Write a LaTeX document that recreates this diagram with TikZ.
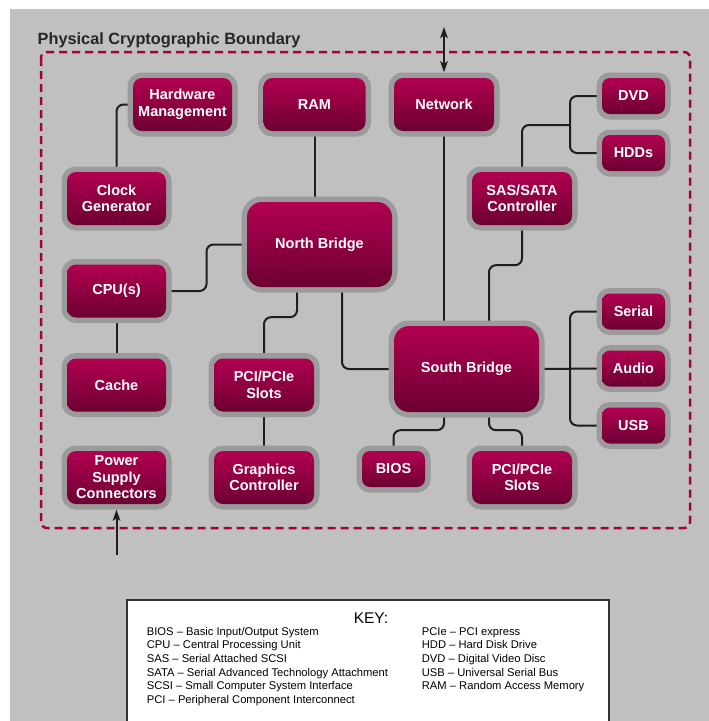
\documentclass[tikz,border=0pt]{standalone}
\usepackage{fontspec}
\setmainfont{Liberation Sans}
\usetikzlibrary{arrows.meta,backgrounds,calc}
\definecolor{panel}{RGB}{192,192,192}
\definecolor{rim}{RGB}{155,155,155}
\definecolor{boxtop}{RGB}{178,0,80}
\definecolor{boxbot}{RGB}{108,0,50}
\definecolor{crimson}{RGB}{163,0,62}
\definecolor{wirec}{RGB}{30,30,30}
\tikzset{>={Stealth[length=11pt,width=7.5pt,inset=2.5pt]}}
\tikzset{
  blk/.style={preaction={draw=rim,line width=11pt}, top color=boxtop, bottom color=boxbot,
    rounded corners=9pt, inner sep=0pt, text=white, align=center,
    font=\fontsize{14.5}{16.5}\selectfont\bfseries, minimum width=99pt, minimum height=53pt},
  small/.style={blk, minimum width=63pt, minimum height=36pt, rounded corners=8pt},
  bridge/.style={blk, minimum width=145pt, minimum height=85pt, rounded corners=15pt},
  wire/.style={draw=wirec, line width=2pt, rounded corners=7pt},
  keyrow/.style={anchor=base west, inner sep=0pt, font=\fontsize{11.2}{13}\selectfont}
}

\begin{document}
\begin{tikzpicture}[x=1pt,y=-1pt]
		\useasboundingbox (0,0) rectangle (709,721);
		\begin{scope}[on background layer]
			\fill[white] (0,0) rectangle (709,721);
			\fill[panel] (10,9) rectangle (709,721);
		\end{scope}
		% boundary
		\node[anchor=base west, font=\fontsize{16.3}{19}\selectfont\bfseries, text=black!85, inner sep=0pt] (title) at (37.5,44) {Physical Cryptographic Boundary};
		\draw[crimson, line width=2.5pt, dash pattern=on 8pt off 5pt, rounded corners=6pt] (41,52) rectangle (690,528);
		% top row
		\node[blk] (hwm) at (182.5,104.5) {Hardware\\Management};
		\node[blk, minimum width=102pt] (ram) at (314.5,104.5) {RAM};
		\node[blk, minimum width=100pt] (net) at (444,104.5) {Network};
		\node[small] (dvd) at (633.5,96) {DVD};
		\node[small] (hdd) at (633.5,153) {HDDs};
		% middle
		\node[blk] (clk) at (116.5,198.5) {Clock\\Generator};
		\node[blk, minimum width=100pt] (sas) at (522,198.5) {SAS/SATA\\Controller};
		\node[bridge] (nb) at (319.5,244.5) {North Bridge};
		\node[blk] (cpu) at (116.5,291) {CPU(s)};
		\node[bridge, minimum height=86pt] (sb) at (466.5,369) {South Bridge};
		\node[small] (ser) at (633.5,311.5) {Serial};
		\node[small] (aud) at (633.5,368.5) {Audio};
		\node[small] (usb) at (633.5,425.5) {USB};
		\node[blk] (cache) at (116.5,385) {Cache};
		\node[blk, minimum width=100pt] (pcil) at (264,385) {PCI/PCIe\\Slots};
		% bottom row
		\node[blk] (psu) at (116.5,477.5) {Power\\Supply\\Connectors};
		\node[blk, minimum width=100pt] (gfx) at (264,477.5) {Graphics\\Controller};
		\node[small] (bios) at (393.5,469) {BIOS};
		\node[blk, minimum width=100pt] (pcir) at (522,477.5) {PCI/PCIe\\Slots};
		\coordinate (sasj) at (570,125);
		\coordinate (ioj) at (570,369);
		\begin{scope}[on background layer]
			\draw[wire] (clk.north) |- (hwm.west);
			\draw[wire] (ram.south) -- (ram.south |- nb.north);
			\draw[wire] (cpu.east) -| ($(cpu.east)!.5!(nb.west)$) |- (nb.west);
			\draw[wire] (cpu.south) -- (cache.north);
			\draw[wire] (pcil.south) -- (gfx.north);
			\draw[wire] (net.south) -- (net.south |- sb.north);
			\draw[wire] ($(nb.south)+(-22.5,0)$) -- ++(0,30) -| (pcil.north);
			\draw[wire] ($(nb.south)+(22.5,0)$) |- (sb.west);
			\draw[wire] (sas.north) |- (sasj);
			\draw[wire] (dvd.west) -| (sasj) |- (hdd.west);
			\draw[wire] (sas.south) -- ++(0,40) -| ($(sb.north)+(22.5,0)$);
			\draw[wire] (sb.east) -- (aud.west);
			\draw[wire] (ser.west) -| (ioj) |- (usb.west);
			\draw[wire] ($(sb.south)+(-22.5,0)$) -- ++(0,18) -| (bios.north);
			\draw[wire] ($(sb.south)+(22.5,0)$) -- ++(0,18) -| (pcir.north);
		\end{scope}
		% outside links
		\coordinate (netext) at (444,27);
		\coordinate (psuext) at (116.5,555);
		\draw[wire, <->, shorten >=5.5pt] (netext) -- (net.north);
		\draw[wire, ->, shorten >=5.5pt] (psuext) -- (psu.south);
		% key
		\draw[draw=black!80, fill=white, line width=1.3pt] (127,600) rectangle (609,730);
		\node[anchor=base, inner sep=0pt, font=\fontsize{15.5}{18}\selectfont] (key) at (371,623) {KEY:};
		\foreach \txt [count=\i] in {BIOS -- Basic Input/Output System, CPU -- Central Processing Unit, SAS -- Serial Attached SCSI, SATA -- Serial Advanced Technology Attachment, SCSI -- Small Computer System Interface, PCI -- Peripheral Component Interconnect}
			\node[keyrow] (keyl\i) at (146.7,{621.3+13.7*\i}) {\txt};
		\foreach \txt [count=\i] in {PCIe -- PCI express, HDD -- Hard Disk Drive, DVD -- Digital Video Disc, USB -- Universal Serial Bus, RAM -- Random Access Memory}
			\node[keyrow] (keyr\i) at (421.7,{621.3+13.7*\i}) {\txt};
	\end{tikzpicture}
\end{document}
